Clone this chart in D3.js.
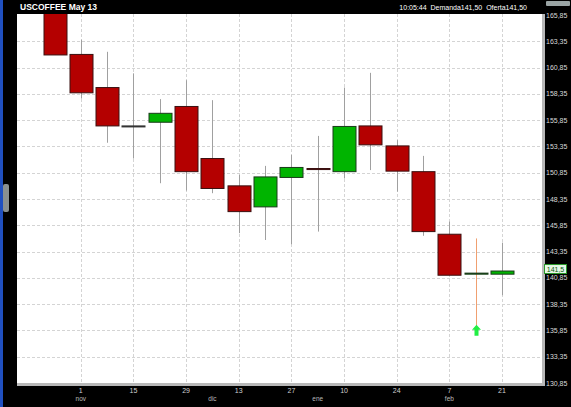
<!DOCTYPE html>
<html><head><meta charset="utf-8">
<script src="https://cdn.jsdelivr.net/npm/d3@7"></script>
<style>html,body{margin:0;padding:0;background:#000;}svg{display:block;}</style>
</head><body>
<svg id="c" width="571" height="407"></svg>
<script>
const dates = ["2012-10-25","2012-11-01","2012-11-08","2012-11-15","2012-11-22","2012-11-29","2012-12-06","2012-12-13","2012-12-20","2012-12-27","2013-01-03","2013-01-10","2013-01-17","2013-01-24","2013-01-31","2013-02-07","2013-02-14","2013-02-21"];
const openV  = [166.4,162.1,158.95,155.3,155.65,157.15,152.2,149.6,147.6,150.4,151.25,150.95,155.3,153.4,150.95,145.0,141.2,141.2];
const highV  = [166.4,163.5,162.35,160.3,157.85,159.65,157.75,150.65,151.5,152.55,154.35,158.95,160.35,153.95,152.45,146.2,144.6,144.2];
const lowV   = [162.05,157.9,153.7,152.2,149.85,149.15,148.9,145.1,144.45,144.05,145.25,150.3,151.1,149.05,144.85,141.1,136.3,139.2];
const closeV = [162.05,158.45,155.3,155.3,156.5,150.95,149.35,147.15,150.45,151.35,151.15,155.25,153.5,151.0,145.25,141.1,141.3,141.5];
const yTicks = [165.85,163.35,160.85,158.35,155.85,153.35,150.85,148.35,145.85,143.35,140.85,138.35,135.85,133.35,130.85];
const xTickDates = ["2012-11-01","2012-11-15","2012-11-29","2012-12-13","2012-12-27","2013-01-10","2013-01-24","2013-02-07","2013-02-21"];
const monthDates = ["2012-11-01","2012-12-06","2013-01-03","2013-02-07"];
const monthLabels = ["nov","dic","ene","feb"];
const lastPrice = 141.5;
const signalIndex = 16;

const parse = d3.utcParse("%Y-%m-%d");
const data = dates.map((d,i)=>({date:parse(d),o:openV[i],h:highV[i],l:lowV[i],c:closeV[i]}));
const svg = d3.select("#c");
const P = {l:17, r:542, t:14, b:383};

const x = d3.scaleUtc().domain([parse(dates[0]), parse(dates[dates.length-1])]).range([54.5, 502]);
const y = d3.scaleLinear().domain([130.85,165.85]).range([383,15]);
const fmt = v => d3.format(".2f")(v).replace(".",",");

// left decorations
svg.append("rect").attr("x",0).attr("y",0).attr("width",3).attr("height",407).attr("fill","#2050c0");
svg.append("rect").attr("x",3).attr("y",184).attr("width",6).attr("height",28).attr("rx",2).attr("fill","#8a9090");

// plot background with shadow
svg.append("rect").attr("x",P.l).attr("y",P.t).attr("width",P.r-P.l+3).attr("height",P.b-P.t+3).attr("fill","#b8b8b8");
svg.append("rect").attr("x",P.l).attr("y",P.t).attr("width",P.r-P.l).attr("height",P.b-P.t).attr("fill","#fff");

// header
svg.append("rect").attr("x",17).attr("y",0).attr("width",554).attr("height",P.t).attr("fill","#000");
svg.append("text").attr("x",20).attr("y",10).attr("fill","#fff").attr("font-family","Liberation Sans, Arial, sans-serif")
  .attr("font-size",8.5).attr("font-weight","bold").text("USCOFFEE May 13");
svg.append("text").attr("x",527).attr("y",10).attr("text-anchor","end").attr("fill","#fff").attr("font-family","Liberation Sans, Arial, sans-serif")
  .attr("font-size",7).attr("xml:space","preserve").text("10:05:44  Demanda141,50  Oferta141,50");
svg.append("rect").attr("x",546).attr("y",1).attr("width",24).attr("height",5).attr("rx",1).attr("fill","#9aa4a4");

// grid
const grid = svg.append("g").attr("stroke","#d4d4d4").attr("stroke-width",1).attr("stroke-dasharray","3,2");
yTicks.slice(1,-1).forEach(v=>{
  grid.append("line").attr("x1",P.l).attr("x2",P.r).attr("y1",Math.round(y(v))+0.5).attr("y2",Math.round(y(v))+0.5);
});
xTickDates.forEach(d=>{
  const xx = Math.round(x(parse(d)))+0.5;
  grid.append("line").attr("x1",xx).attr("x2",xx).attr("y1",P.t).attr("y2",P.b);
});

// clip
svg.append("defs").append("clipPath").attr("id","clip").append("rect")
  .attr("x",P.l).attr("y",P.t).attr("width",P.r-P.l).attr("height",P.b-P.t);
const g = svg.append("g").attr("clip-path","url(#clip)");

const bw = 23;
data.forEach((d,i)=>{
  const cx = Math.round(x(d.date))+0.5;
  g.append("line").attr("x1",cx).attr("x2",cx).attr("y1",y(d.h)).attr("y2",y(d.l))
    .attr("stroke", i===signalIndex ? "#f0a070" : "#a0a0a0").attr("stroke-width",1);
  const top = y(Math.max(d.o,d.c)), bot = y(Math.min(d.o,d.c));
  let fill, stroke;
  if (d.c > d.o) { fill = "#00b400"; stroke = "#1a3a1a"; }
  else if (d.c < d.o) { fill = "#b40000"; stroke = "#3a1010"; }
  else { fill = "#333"; stroke = "#333"; }
  g.append("rect").attr("x",cx-bw/2).attr("y",top).attr("width",bw).attr("height",Math.max(1,bot-top))
    .attr("fill",fill).attr("stroke",stroke).attr("stroke-width",1);
});

// signal arrow
{
  const d = data[signalIndex];
  const cx = Math.round(x(d.date))+0.5, ay = y(d.l)-1;
  g.append("path").attr("d",`M${cx},${ay} L${cx+4.5},${ay+5} L${cx+2},${ay+5} L${cx+2},${ay+11} L${cx-2},${ay+11} L${cx-2},${ay+5} L${cx-4.5},${ay+5} Z`)
    .attr("fill","#22ee44");
}

// right axis
const ax = svg.append("g").attr("font-family","Liberation Sans, Arial, sans-serif").attr("font-size",7).attr("fill","#d8d8d8");
yTicks.forEach(v=>{
  ax.append("text").attr("x",546).attr("y",y(v)+2.5).text(fmt(v));
});
// last price label
svg.append("rect").attr("x",544.5).attr("y",y(lastPrice)-6.5).attr("width",22).attr("height",9).attr("fill","#e6f7e6").attr("stroke","#2a9a2a").attr("stroke-width",1);
svg.append("text").attr("x",555.5).attr("y",y(lastPrice)+0.5).attr("text-anchor","middle").attr("font-family","Liberation Sans, Arial, sans-serif")
  .attr("font-size",7).attr("fill","#0a5a0a").text("141,5");

// bottom axis
const bx = svg.append("g").attr("font-family","Liberation Sans, Arial, sans-serif").attr("font-size",7).attr("fill","#d0d0d0").attr("text-anchor","middle");
xTickDates.forEach(d=>{
  bx.append("text").attr("x",x(parse(d))).attr("y",393).text(d3.utcFormat("%-d")(parse(d)));
});
monthDates.forEach((d,i)=>{
  bx.append("text").attr("x",x(parse(d))).attr("y",401).attr("font-size",6.5).attr("fill","#bbbbbb").text(monthLabels[i]);
});
</script>
</body></html>
